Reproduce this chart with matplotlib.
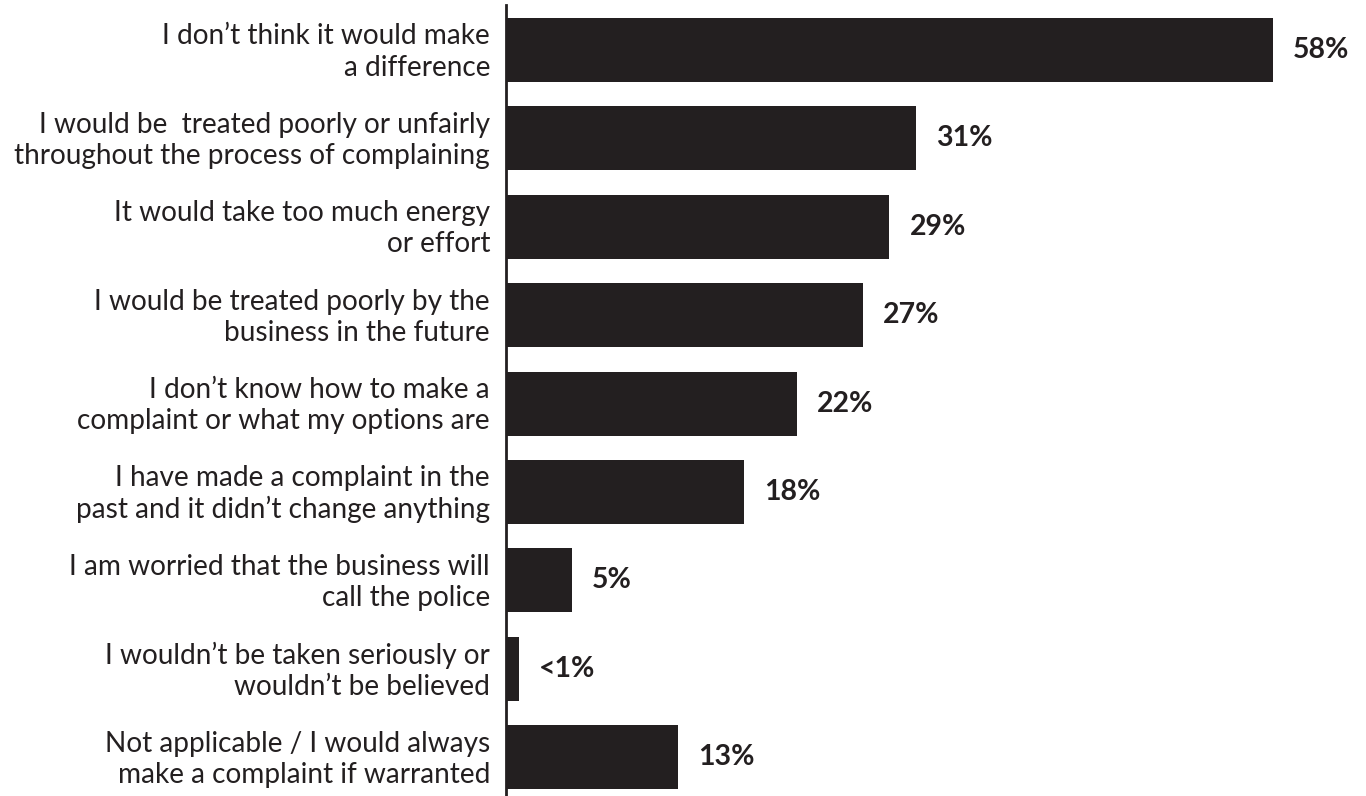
import matplotlib
matplotlib.use("Agg")
import matplotlib.pyplot as plt
from matplotlib.transforms import ScaledTranslation

reasons = [
    "I don\u2019t think it would make\na difference",
    "I would be  treated poorly or unfairly\nthroughout the process of complaining",
    "It would take too much energy\nor effort",
    "I would be treated poorly by the\nbusiness in the future",
    "I don\u2019t know how to make a\ncomplaint or what my options are",
    "I have made a complaint in the\npast and it didn\u2019t change anything",
    "I am worried that the business will\ncall the police",
    "I wouldn\u2019t be taken seriously or\nwouldn\u2019t be believed",
    "Not applicable / I would always\nmake a complaint if warranted",
]
shares = [58, 31, 29, 27, 22, 18, 5, 0.95, 13]
share_labels = ["58%", "31%", "29%", "27%", "22%", "18%", "5%", "<1%", "13%"]

BAR = "#231f20"
TEXT = "#231f20"

plt.rcParams["font.family"] = ["Lato", "DejaVu Sans"]

W, H = 1366, 796
fig = plt.figure(figsize=(W / 100, H / 100), dpi=100)
ax = fig.add_axes([506 / W, 0, 1 - 506 / W, 1 - 5 / H])

pos = list(range(len(reasons)))
ax.barh(pos, shares, height=0.724, color=BAR, zorder=2)

ax.set_ylim(8.44, -0.509)
ax.set_xlim(0, 65.05)

for p, v, lab in zip(pos, shares, share_labels):
    ax.annotate(lab, xy=(v, p), xytext=(14.5, 0), textcoords="offset points",
                ha="left", va="center", fontsize=20.5, fontweight="bold", color=TEXT)

ax.set_yticks(pos)
ax.set_yticklabels(reasons, fontsize=20.2, color=TEXT, linespacing=1.24)
ax.tick_params(axis="y", length=0, pad=11.5)
ax.set_xticks([])

# nudge the two-line category labels up slightly
shift = ScaledTranslation(0, 3 / 100, fig.dpi_scale_trans)
for t in ax.get_yticklabels():
    t.set_transform(t.get_transform() + shift)

for side in ("top", "right", "bottom"):
    ax.spines[side].set_visible(False)
ax.spines["left"].set_color(BAR)
ax.spines["left"].set_linewidth(2)

fig.savefig("out.png", dpi=100)
